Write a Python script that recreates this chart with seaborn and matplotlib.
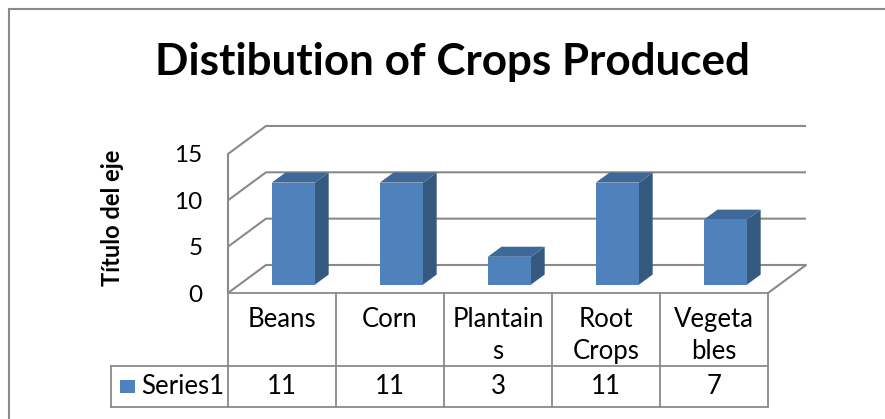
import matplotlib
matplotlib.use("Agg")
import matplotlib.pyplot as plt
from matplotlib.patches import Polygon, Rectangle
from matplotlib.lines import Line2D
import seaborn as sns
import pandas as pd

# ---------------- data ----------------
categories = ["Beans", "Corn", "Plantains", "Root Crops", "Vegetables"]
category_labels = ["Beans", "Corn", "Plantain\ns", "Root\nCrops", "Vegeta\nbles"]
values = [11, 11, 3, 11, 7]
series_name = "Series1"
y_ticks = [0, 5, 10, 15]
title = "Distibution of Crops Produced"
y_title = "Título del eje"

# ---------------- style ----------------
sns.set_style("white")
plt.rcParams["font.family"] = ["Lato", "DejaVu Sans"]

FRONT = "#4F81BD"
SIDE = "#35597F"
TOPC = "#3E6898"
GRID = "#8A8A8A"
FS = 17.5
FS_T = 18.5

W, H = 885, 419
fig = plt.figure(figsize=(W / 100, H / 100), dpi=100)

# layout (pixels)
X0 = 228        # front plane left edge
CAT = 108       # px per category
Y0 = 293        # front-plane zero line
PXU = 9.27      # px per value unit
OXP, OYP = 38, 28   # full depth offset of the 3D box
D0, BD = 0.30, 0.36  # bar front depth / bar depth (fractions)
n = len(categories)

OX = OXP / CAT
OY = OYP / PXU
ymax = max(y_ticks) + OY
ax_w = CAT * (n + OX)
ax_h = ymax * PXU
ax = fig.add_axes([X0 / W, (H - Y0) / H, ax_w / W, ax_h / H])

df = pd.DataFrame({"category": categories, "value": values})
sns.barplot(data=df, x="category", y="value", ax=ax, color=FRONT,
            width=0.4, saturation=1, linewidth=0, zorder=3)

xl = -0.5
ax.set_xlim(xl, xl + n + OX)
ax.set_ylim(0, ymax)
for s in ax.spines.values():
    s.set_visible(False)
ax.set_xticks([])
ax.set_xlabel("")
ax.set_yticks(y_ticks)
ax.set_yticklabels([str(t) for t in y_ticks])
ax.tick_params(axis="y", length=0, pad=18.5, labelsize=FS, colors="black")
ax.patch.set_alpha(0)

ax.set_ylabel(y_title, fontsize=17, fontweight="bold", color="black")
ax.yaxis.set_label_coords((124 - X0) / ax_w, (Y0 - 218) / ax_h)

# back wall / left wall gridlines
for v in y_ticks:
    ax.plot([xl, xl + OX, xl + n + OX], [v, v + OY, v + OY], color=GRID,
            lw=1.5, zorder=1, clip_on=False, solid_capstyle="butt")
ax.plot([xl, xl], [0, max(y_ticks)], color=GRID, lw=1.5, zorder=1, clip_on=False)
ax.plot([xl + n, xl + n + OX], [0, OY], color=GRID, lw=1.5, zorder=1, clip_on=False)

# 3D bars: shift front faces and add side/top faces
for p in ax.patches[:n]:
    x0 = p.get_x() + OX * D0
    w = p.get_width()
    h = p.get_height()
    yb = OY * D0
    p.set_x(x0)
    p.set_y(yb)
    x1 = x0 + w
    yt = yb + h
    dx, dy = OX * BD, OY * BD
    ax.add_patch(Polygon([(x1, yb), (x1 + dx, yb + dy), (x1 + dx, yt + dy), (x1, yt)],
                         closed=True, facecolor=SIDE, edgecolor="none", zorder=3))
    ax.add_patch(Polygon([(x0, yt), (x1, yt), (x1 + dx, yt + dy), (x0 + dx, yt + dy)],
                         closed=True, facecolor=TOPC, edgecolor="none", zorder=3))

# ---------------- data table ----------------
T_TOP, T_MID, T_BOT = 293, 366, 407
tax = fig.add_axes([X0 / W, (H - T_BOT) / H, ax_w / W, (T_BOT - T_TOP) / H])
tax.set_xlim(xl, xl + n + OX)
tax.set_ylim(-(T_BOT - T_TOP), 0)
tax.axis("off")
leg_l = xl + (111 - X0) / CAT
mid = -(T_MID - T_TOP)
bot = -(T_BOT - T_TOP)
TL = dict(color=GRID, lw=1.3, clip_on=False, solid_capstyle="projecting")
tax.plot([xl, xl + n], [0, 0], **TL)
tax.plot([leg_l, xl + n], [mid, mid], **TL)
tax.plot([leg_l, xl + n], [bot, bot], **TL)
tax.plot([leg_l, leg_l], [mid, bot], **TL)
for i in range(n + 1):
    tax.plot([xl + i, xl + i], [0, bot], **TL)

for i, lab in enumerate(category_labels):
    tax.text(i, -14, lab, ha="center", va="top", fontsize=FS_T, linespacing=1.33,
             color="black")
for i, v in enumerate(values):
    tax.text(i, (mid + bot) / 2, str(v), ha="center", va="center", fontsize=FS_T,
             color="black")
tax.add_patch(Rectangle((xl + (120 - X0) / CAT, -(393 - T_TOP)), 15 / CAT, 13,
                        facecolor=FRONT, edgecolor="none", clip_on=False))
tax.text(xl + (141 - X0) / CAT, (mid + bot) / 2, series_name, ha="left", va="center",
         fontsize=FS_T, color="black")

# ---------------- title & frame ----------------
fig.text(452.5 / W, (H - 75) / H, title, ha="center", va="baseline",
         fontsize=31.7, fontweight="bold", color="black")
fig.add_artist(Line2D([9 / W, 1], [(H - 9) / H, (H - 9) / H], transform=fig.transFigure,
                      color=GRID, lw=1.5))
fig.add_artist(Line2D([9 / W, 9 / W], [0, (H - 9) / H], transform=fig.transFigure,
                      color=GRID, lw=1.5))

fig.savefig("out.png", dpi=100, facecolor="white")
